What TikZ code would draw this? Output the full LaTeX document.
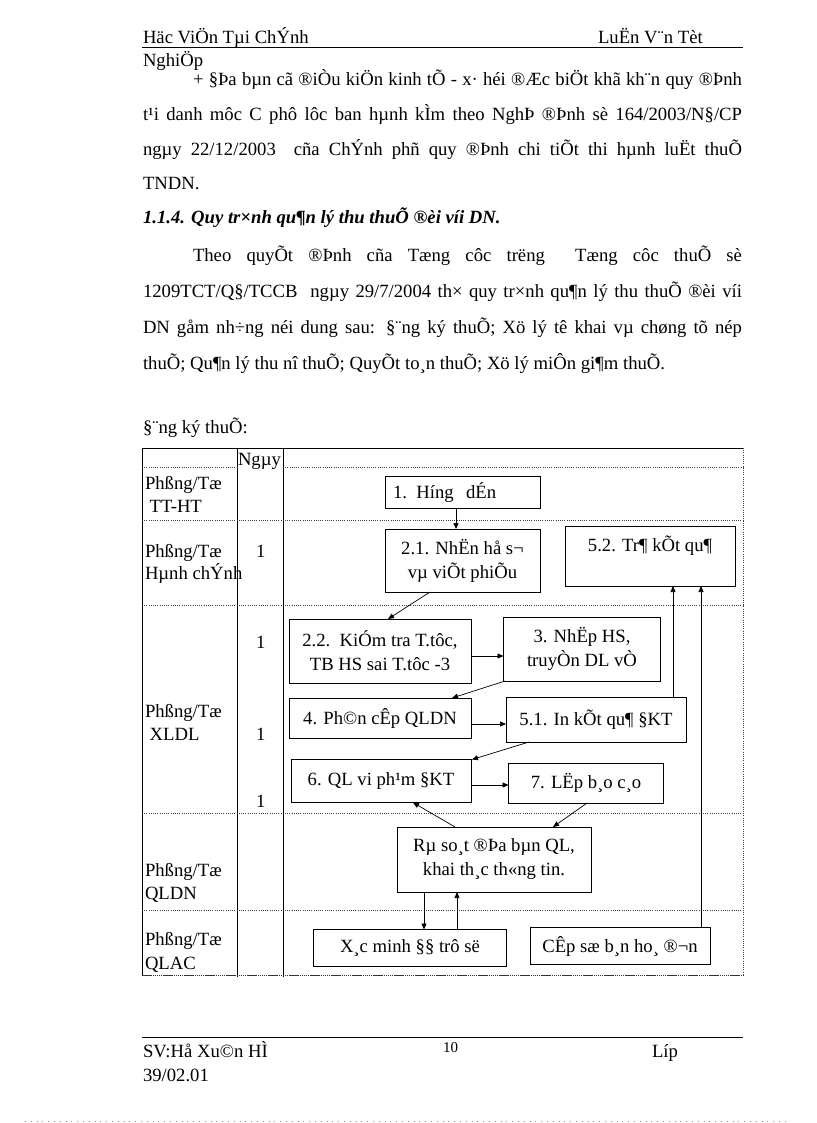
\documentclass[tikz,border=0pt]{standalone}
\usepackage{fontspec}
\setmainfont{Liberation Serif}
\usetikzlibrary{arrows.meta}
\newcommand{\fsz}{\fontsize{18.67}{24}\selectfont}
\begin{document}
\begin{tikzpicture}[x=1pt,y=-1pt,
  every node/.style={inner sep=0pt, outer sep=0pt},
  txt/.style={anchor=base west, font=\fsz},
  box/.style={draw, line width=0.8pt, align=center, font=\fsz},
  arr/.style={line width=0.7pt, -{Triangle[length=6pt,width=5pt]}},
  dotl/.style={line width=0.7pt, black!75, dash pattern=on 1pt off 1.2pt},
  solidl/.style={line width=0.9pt}
]
\useasboundingbox[fill=white] (0,0) rectangle (816,1123);
% header
\node[txt] (h1) at (143,44) {Häc ViÖn Tµi ChÝnh};
\node[txt] (h2) at (598,44) {LuËn V¨n Tèt};
\draw[solidl] (142,47) -- (743,47);
\node[txt] (h3) at (143,67) {NghiÖp};
% body
\node[txt] (l1) at (193,86) {\makebox[549pt][s]{+ §Þa bµn cã ®iÒu kiÖn kinh tÕ - x· héi ®Æc biÖt khã kh¨n quy ®Þnh}};
\node[txt] (l2) at (143,121) {\makebox[599pt][s]{t¹i danh môc C phô lôc ban hµnh kÌm theo NghÞ ®Þnh sè 164/2003/N§/CP}};
\node[txt] (l3) at (143,156) {\makebox[599pt][s]{ngµy 22/12/2003\ \ cña ChÝnh phñ quy ®Þnh chi tiÕt thi hµnh luËt thuÕ}};
\node[txt] (l4) at (143,190) {TNDN.};
\node[txt, font=\fsz\bfseries\itshape] (hd) at (143,224) {1.1.4. Quy tr×nh qu¶n lý thu thuÕ ®èi víi DN.};
\node[txt] (p1) at (193,261) {\makebox[549pt][s]{Theo quyÕt ®Þnh cña Tæng côc trëng\ \ Tæng côc thuÕ sè}};
\node[txt] (p2) at (143,297) {\makebox[599pt][s]{1209TCT/Q§/TCCB\ \ ngµy 29/7/2004 th× quy tr×nh qu¶n lý thu thuÕ ®èi víi}};
\node[txt] (p3) at (143,333) {\makebox[599pt][s]{DN gåm nh÷ng néi dung sau: §¨ng ký thuÕ; Xö lý tê khai vµ chøng tõ nép}};
\node[txt] (p4) at (143,369) {thuÕ; Qu¶n lý thu nî thuÕ; QuyÕt to¸n thuÕ; Xö lý miÔn gi¶m thuÕ.};
\node[txt] (dk) at (143,433) {§¨ng ký thuÕ:};
% table frame
\draw[solidl] (142,448) -- (743,448);
\draw[solidl] (142,448) -- (142,975);
\draw[solidl] (237,448) -- (237,977);
\draw[solidl] (283,448) -- (283,977);
\draw[dotl] (743,448) -- (743,975);
\draw[dotl] (142,467) -- (237,467);
\draw[dotl] (283,467) -- (743,467);
\draw[dotl] (142,520) -- (743,520);
\draw[dotl] (142,605) -- (743,605);
\draw[dotl] (142,813) -- (743,813);
\draw[dotl] (142,910) -- (743,910);
\draw[line width=0.9pt, black!80, dash pattern=on 1.5pt off 0.6pt] (142,975) -- (743,975);
% column / row labels
\node[txt] (ngay) at (238,465) {Ngµy};
\node[txt] (r1a) at (145,489) {Phßng/Tæ};
\node[txt] (r1b) at (145,512) {\ TT-HT};
\node[txt] (r2a) at (145,557) {Phßng/Tæ};
\node[txt] (r2b) at (145,579) {Hµnh chÝnh};
\node[txt] (d1) at (256,557) {1};
\node[txt] (d2) at (256,648) {1};
\node[txt] (r3a) at (145,717) {Phßng/Tæ};
\node[txt] (r3b) at (145,740) {\ XLDL};
\node[txt] (d3) at (256,740) {1};
\node[txt] (d4) at (256,807) {1};
\node[txt] (r4a) at (145,876) {Phßng/Tæ};
\node[txt] (r4b) at (145,899) {QLDN};
\node[txt] (r5a) at (145,945) {Phßng/Tæ};
\node[txt] (r5b) at (145,969) {QLAC};
% boxes
\node[box, align=left, text width=139pt, inner xsep=8pt, minimum height=32pt] (b1) at (462.5,492) {1. Híng\ \ dÉn};
\node[box, minimum width=155pt, minimum height=63pt] (b21) at (462.5,560.5) {2.1. NhËn hå s¬\\vµ viÕt phiÕu};
\node[box, minimum width=170pt, minimum height=60pt] (b52) at (650,556) {5.2. Tr¶ kÕt qu¶\\\mbox{}};
\node[box, minimum width=182pt, minimum height=64pt] (b22) at (380,651) {2.2.\ \ KiÓm tra T.tôc,\\TB HS sai T.tôc -3};
\node[box, minimum width=157pt, minimum height=64pt] (b3) at (582,649) {3. NhËp HS,\\truyÒn DL vÒ};
\node[box, minimum width=182pt, minimum height=40pt] (b4) at (380,718) {4. Ph©n cÊp QLDN};
\node[box, minimum width=180pt, minimum height=45pt] (b51) at (596,719.5) {5.1. In kÕt qu¶ §KT};
\node[box, minimum width=180pt, minimum height=43pt] (b6) at (381,781) {6. QL vi ph¹m §KT};
\node[box, minimum width=155pt, minimum height=40pt] (b7) at (586,783) {7. LËp b¸o c¸o};
\node[box, minimum width=194pt, minimum height=65pt] (bR) at (494,859.5) {Rµ so¸t ®Þa bµn QL,\\khai th¸c th«ng tin.};
\node[box, minimum width=193pt, minimum height=37pt] (bX) at (410,948) {X¸c minh §§ trô së};
\node[box, minimum width=180pt, minimum height=37pt] (bC) at (620,946) {CÊp sæ b¸n ho¸ ®¬n};
% arrows
\draw[arr] (456,0 |- b1.south) -- (456,0 |- b21.north);
\draw[arr] (430,0 |- b21.south) -- (388,0 |- b22.north);
\draw[arr] (b22.east |- 0,656) -- (b3.west |- 0,656);
\draw[arr] (505,0 |- b3.south) -- (452,0 |- b4.north);
\draw[arr] (b4.east |- 0,724) -- (b51.west |- 0,724);
\draw[arr] (529,0 |- b51.south) -- (472,0 |- b6.north);
\draw[arr] (673,0 |- b51.north) -- (673,0 |- b52.south);
\draw[arr] (b6.east |- 0,785) -- (b7.west |- 0,785);
\draw[arr] (455,0 |- bR.north) -- (413,0 |- b6.south);
\draw[arr] (587,0 |- b7.south) -- (553,0 |- bR.north);
\draw[arr] (424,0 |- bR.south) -- (424,0 |- bX.north);
\draw[arr] (457,0 |- bX.north) -- (457,0 |- bR.south);
\draw[arr] (701,0 |- bC.north) -- (701,0 |- b52.south);
% footer
\draw[solidl] (142,1037) -- (743,1037);
\node[txt] (f1) at (143,1057) {SV:Hå Xu©n HÌ};
\node[txt, font=\fontsize{15}{18}\selectfont] (f2) at (443,1052) {10};
\node[txt] (f3) at (652,1057) {Líp};
\node[txt] (f4) at (143,1081) {39/02.01};
\draw[black!45, line width=0.6pt, dash pattern=on 0.8pt off 5pt] (25,1121) -- (790,1121);
\end{tikzpicture}
\end{document}
